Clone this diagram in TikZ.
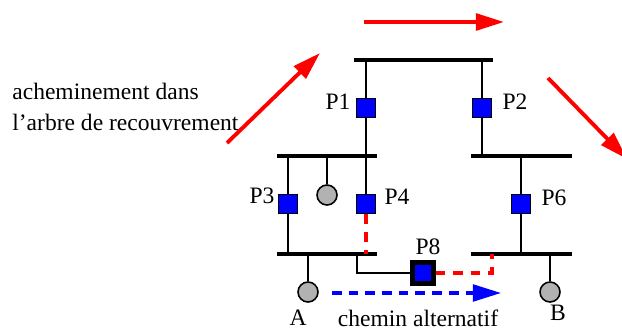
\documentclass[tikz,border=0pt]{standalone}
\usepackage{fontspec}
\setmainfont{Liberation Serif}
\usetikzlibrary{arrows.meta,positioning}

\tikzset{
  bus/.style={line width=2.3pt},
  wire/.style={line width=1.1pt},
  port/.style={draw,line width=1.1pt,fill=blue,minimum size=0.38cm,inner sep=0pt},
  bridge/.style={port,line width=2.3pt,minimum size=0.42cm},
  host/.style={circle,draw,line width=0.9pt,fill=black!30,minimum size=0.4cm,inner sep=0pt},
  flow/.style={red,line width=2.2pt,-{Triangle[length=16pt,width=9.5pt]}},
  detour/.style={red,line width=1.9pt,dash pattern=on 5.5pt off 4.5pt},
  altpath/.style={blue,line width=1.9pt,dash pattern=on 5.5pt off 4pt,-{Triangle[length=16pt,width=9.5pt]}},
}

\begin{document}
\begin{tikzpicture}[x=0.02cm,y=-0.02cm,font=\fontsize{13.4}{17.6}\selectfont]
  \useasboundingbox (0,0) rectangle (622,331);
  % buses
  \draw[bus] (354,60) -- (493,60);
  \draw[bus] (277,156) -- (377,156);
  \draw[bus] (471,156) -- (572,156);
  \draw[bus] (277,254) -- (377,254);
  \draw[bus] (471,254) -- (572,254);
  % ports
  \node[port] (p1) at (366,108) {};
  \node[port] (p2) at (482,108) {};
  \node[port] (p3) at (288,204) {};
  \node[port] (p4) at (366,204) {};
  \node[port] (p6) at (521,204) {};
  \node[bridge] (p8) at (423,273) {};
  \node (lp1) at (338,102) {P1};
  \node (lp2) at (515,102) {P2};
  \node (lp3) at (262,196) {P3};
  \node (lp4) at (397,197) {P4};
  \node (lp6) at (554,198) {P6};
  \node (lp8) at (428,247) {P8};
  % hosts
  \node[host] (hc) at (327,195) {};
  \node[host] (ha) at (308,292) {};
  \node[host] (hb) at (550,292) {};
  \node (la) at (298,318) {A};
  \node (lb) at (558,313) {B};
  \draw[wire] (hc) -- (hc |- 0,156);
  \draw[wire] (ha) -- (ha |- 0,254);
  \draw[wire] (hb) -- (hb |- 0,254);
  % links
  \draw[wire] (p1 |- 0,60) -- (p1) -- (p1 |- 0,156);
  \draw[wire] (p2 |- 0,60) -- (p2) -- (p2 |- 0,156);
  \draw[wire] (p3 |- 0,156) -- (p3) -- (p3 |- 0,254);
  \draw[wire] (p4 |- 0,156) -- (p4);
  \draw[wire] (p6 |- 0,156) -- (p6) -- (p6 |- 0,254);
  \draw[wire] (357,254) |- (p8.west);
  \draw[detour] (p4.south) -- (p4 |- 0,254);
  \draw[detour] (p8.east) -| (492,254);
  % paths
  \coordinate (up0) at (227,143);
  \coordinate (up1) at (320,53);
  \coordinate (top0) at (364,22);
  \coordinate (top1) at (504,22);
  \coordinate (down0) at (548,78);
  \coordinate (down1) at (627,159);
  \coordinate (alt0) at (332,293);
  \coordinate (alt1) at (501,293);
  \draw[flow] (up0) -- (up1);
  \draw[flow] (top0) -- (top1);
  \draw[flow] (down0) -- (down1);
  \draw[altpath] (alt0) -- (alt1);
  \node (lalt) at (418,318) {chemin alternatif};
  \node[align=left,anchor=north west,inner sep=0pt] (lroute) at (12,83) {acheminement dans\\l'arbre de recouvrement};
\end{tikzpicture}
\end{document}
